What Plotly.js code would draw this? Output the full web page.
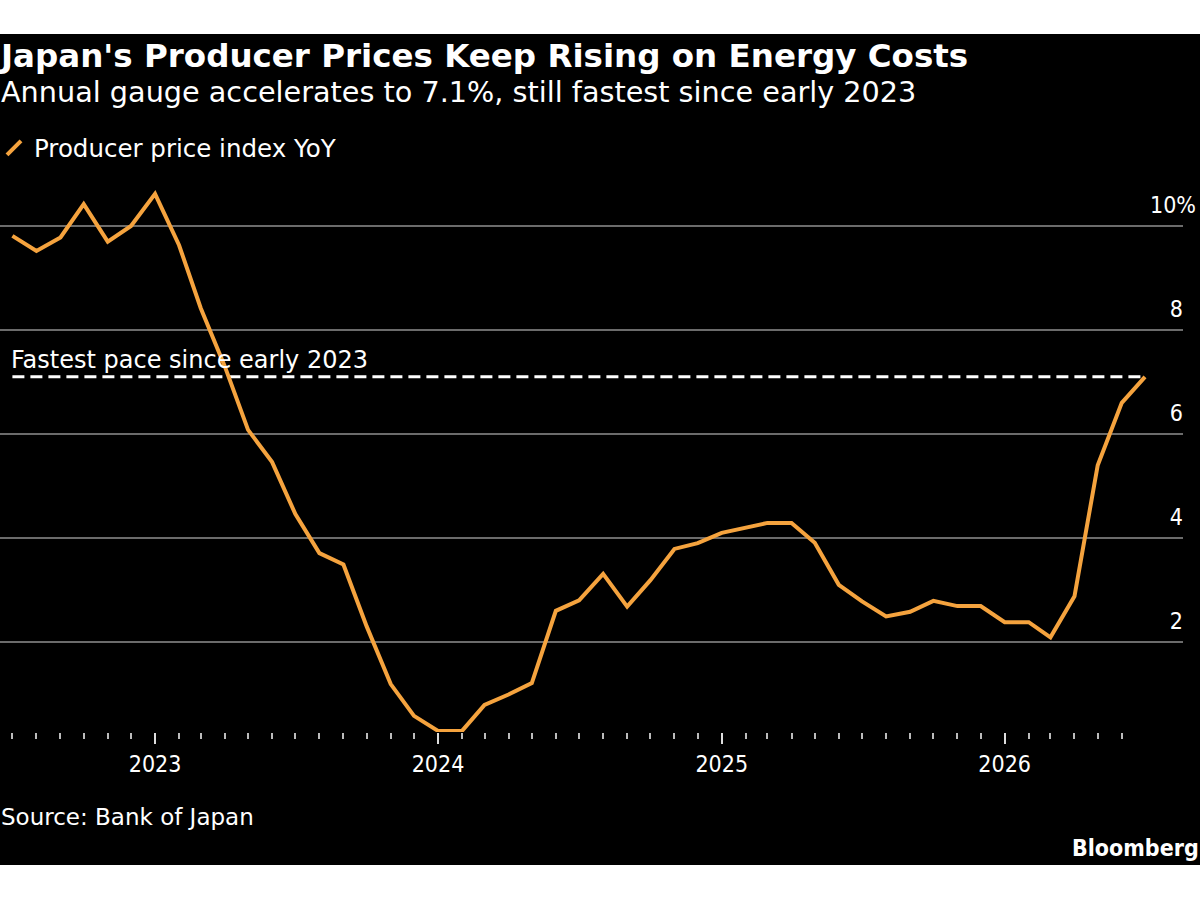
<!DOCTYPE html>
<html>
<head>
<meta charset="utf-8">
<script src="https://cdn.plot.ly/plotly-3.0.1.min.js"></script>
<style>
  html, body { margin: 0; padding: 0; background: #ffffff; }
  #chart { position: absolute; left: 0; top: 34px; width: 1200px; height: 831px; }
</style>
</head>
<body>
<div id="chart"></div>
<script>
// ---- Data ----
const months = [
  "2022-07-01","2022-08-01","2022-09-01","2022-10-01","2022-11-01","2022-12-01",
  "2023-01-01","2023-02-01","2023-03-01","2023-04-01","2023-05-01","2023-06-01",
  "2023-07-01","2023-08-01","2023-09-01","2023-10-01","2023-11-01","2023-12-01",
  "2024-01-01","2024-02-01","2024-03-01","2024-04-01","2024-05-01","2024-06-01",
  "2024-07-01","2024-08-01","2024-09-01","2024-10-01","2024-11-01","2024-12-01",
  "2025-01-01","2025-02-01","2025-03-01","2025-04-01","2025-05-01","2025-06-01",
  "2025-07-01","2025-08-01","2025-09-01","2025-10-01","2025-11-01","2025-12-01",
  "2026-01-01","2026-02-01","2026-03-01","2026-04-01","2026-05-01","2026-06-01",
  "2026-07-01"
];
const ppiYoY = [
  9.81, 9.52, 9.78, 10.42, 9.70, 10.0,
  10.62, 9.63, 8.42, 7.3, 6.08, 5.46, 4.46, 3.71, 3.49, 2.3, 1.19, 0.58,
  0.29, 0.29, 0.79, 0.99, 1.21, 2.60, 2.80, 3.31, 2.68, 3.19, 3.79, 3.90,
  4.10, 4.20, 4.29, 4.29, 3.91, 3.10, 2.78, 2.49, 2.58, 2.79, 2.69, 2.69,
  2.38, 2.38, 2.09, 2.88, 5.40, 6.60, 7.10
];
const refLevel = 7.1;
const refLabel = "Fastest pace since early 2023";
const yTickVals = [2, 4, 6, 8, 10];
const yTickText = ["2\u00a0\u00a0", "4\u00a0\u00a0", "6\u00a0\u00a0", "8\u00a0\u00a0", "10%"];
const seriesName = "Producer price index YoY";
const titleText = "Japan's Producer Prices Keep Rising on Energy Costs";
const subtitleText = "Annual gauge accelerates to 7.1%, still fastest since early 2023";
const sourceText = "Source: Bank of Japan";
const brandText = "Bloomberg";

// ---- Styles ----
const ORANGE = "#f5a33e";
const COND = "DejaVu Sans Condensed, DejaVu Sans, sans-serif";
const WIDE = "DejaVu Sans, sans-serif";

const refX = [months[0], months[months.length - 1]];
const refY = refX.map(() => refLevel);

const traces = [
  {
    x: refX, y: refY, mode: "lines", type: "scatter",
    line: { color: "#ffffff", width: 3, dash: "12px,6px" },
    showlegend: false, hoverinfo: "skip"
  },
  {
    x: months, y: ppiYoY, mode: "lines", type: "scatter",
    line: { color: ORANGE, width: 4, shape: "linear" },
    showlegend: false, name: seriesName
  },
  {
    x: [null], y: [null], mode: "markers", type: "scatter",
    name: seriesName,
    marker: { symbol: "line-ne", size: 14, color: ORANGE, line: { color: ORANGE, width: 4 } },
    showlegend: true
  }
];

const layout = {
  width: 1200, height: 831,
  paper_bgcolor: "#000000", plot_bgcolor: "#000000",
  margin: { l: 0, r: 17, t: 146, b: 133, autoexpand: false },
  font: { family: COND, color: "#ffffff", size: 23 },
  title: {
    text: "<b>" + titleText + "</b>",
    font: { family: WIDE, size: 32.5, color: "#ffffff", weight: 700 },
    xref: "container", x: 1 / 1200, xanchor: "left",
    yref: "container", y: 1 - 22 / 831, yanchor: "middle"
  },
  showlegend: true,
  legend: {
    x: -6 / 1183, xanchor: "left", y: 1.058, yanchor: "middle",
    font: { family: WIDE, size: 24.5, color: "#ffffff" },
    bgcolor: "rgba(0,0,0,0)", itemwidth: 30
  },
  xaxis: {
    type: "date",
    range: ["2022-06-15", "2026-08-19"],
    showgrid: false, zeroline: false, showline: false,
    tick0: "2023-01-01", dtick: "M12", tickformat: "%Y",
    ticks: "outside", ticklen: 11, tickwidth: 2, tickcolor: "#dddddd",
    tickfont: { family: COND, size: 23, color: "#ffffff" },
    minor: {
      tickmode: "array", tickvals: months.slice(0, months.length - 1),
      ticks: "outside", ticklen: 6, tickwidth: 2, tickcolor: "#bbbbbb", showgrid: false
    },
    fixedrange: true
  },
  yaxis: {
    range: [0.269, 10.885],
    side: "right",
    tickmode: "array", tickvals: yTickVals, ticktext: yTickText,
    ticklabelposition: "inside top",
    ticklabelstandoff: -16,
    ticklabelshift: -5,
    showgrid: true, gridcolor: "#6b6b6b", gridwidth: 1.5,
    zeroline: false, showline: false, ticks: "",
    tickfont: { family: COND, size: 23, color: "#ffffff" },
    fixedrange: true
  },
  annotations: [
    {
      text: subtitleText, xref: "paper", yref: "paper",
      x: 0, xanchor: "left", xshift: -1, y: 1.1594, yanchor: "middle",
      showarrow: false, font: { family: WIDE, size: 28.7, color: "#ffffff" }
    },
    {
      text: refLabel, xref: "x", yref: "y",
      x: months[0], xanchor: "left", xshift: -3, y: refLevel, yanchor: "bottom", yshift: 1,
      showarrow: false, font: { family: WIDE, size: 24, color: "#ffffff" }
    },
    {
      text: sourceText, xref: "paper", yref: "paper",
      x: 0, xanchor: "left", xshift: -1, y: -0.154, yanchor: "middle",
      showarrow: false, font: { family: WIDE, size: 23, color: "#ffffff" }
    },
    {
      text: "<b>" + brandText + "</b>", xref: "paper", yref: "paper",
      x: 1201 / 1183, xanchor: "right", y: -0.210, yanchor: "middle",
      showarrow: false, font: { family: COND, size: 23, color: "#ffffff" }
    }
  ]
};

Plotly.newPlot("chart", traces, layout, { staticPlot: true, displayModeBar: false });
</script>
</body>
</html>
